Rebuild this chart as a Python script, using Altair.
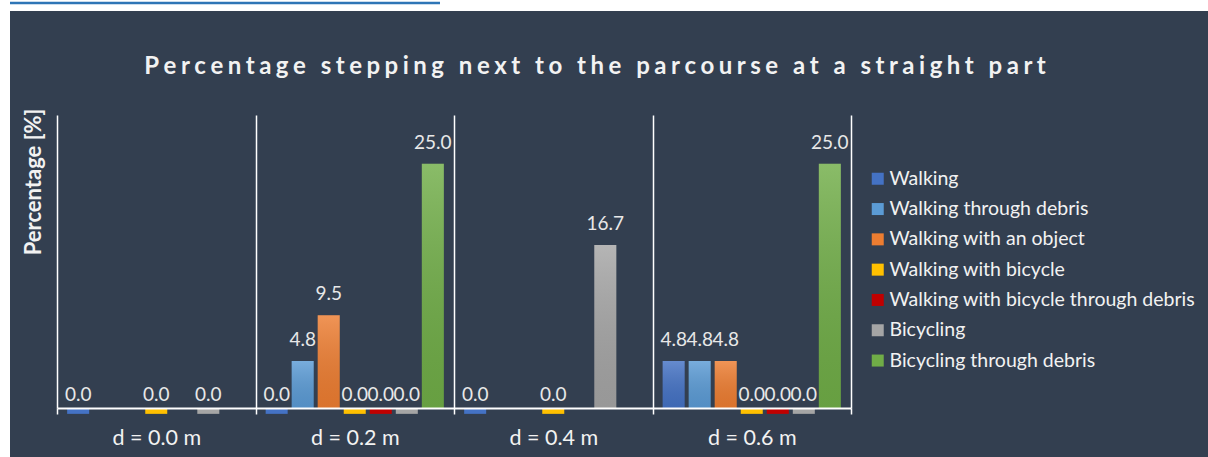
import altair as alt
import pandas as pd

# Distance categories on the x axis
groups = ["d = 0.0 m", "d = 0.2 m", "d = 0.4 m", "d = 0.6 m"]

# Movement types (legend order) and their colours
series = [
    "Walking",
    "Walking through debris",
    "Walking with an object",
    "Walking with bicycle",
    "Walking with bicycle through debris",
    "Bicycling",
    "Bicycling through debris",
]
colors = ["#4472C4", "#5B9BD5", "#ED7D31", "#FFC000", "#C00000", "#A5A5A5", "#70AD47"]

# Percentage stepping next to the parcourse, one value per distance (None = not measured)
walking = [0.0, 0.0, 0.0, 4.8]
walking_debris = [None, 4.8, None, 4.8]
walking_object = [None, 9.5, None, 4.8]
walking_bicycle = [0.0, 0.0, 0.0, 0.0]
walking_bicycle_debris = [None, 0.0, None, 0.0]
bicycling = [0.0, 0.0, 16.7, 0.0]
bicycling_debris = [None, 25.0, None, 25.0]

values = [walking, walking_debris, walking_object, walking_bicycle,
          walking_bicycle_debris, bicycling, bicycling_debris]

rows = []
for name, vals in zip(series, values):
    for g, v in zip(groups, vals):
        if v is not None:
            rows.append({"group": g, "series": name, "value": v})
df = pd.DataFrame(rows)

FONT = "Lato"
TEXT = "#F2F2F2"
PANEL = "#333F50"

# Letter-spaced heading (thin + hair space between characters)
title_text = "Percentage stepping next to the parcourse at a straight part"
spaced_title = "\u2009\u200a".join(title_text)

x_enc = alt.X(
    "group:N",
    sort=groups,
    scale=alt.Scale(domain=groups, paddingInner=0, paddingOuter=0),
    axis=alt.Axis(
        title=None,
        labelAngle=0,
        labelFont=FONT,
        labelFontSize=21.5,
        labelColor=TEXT,
        labelPadding=13,
        domainColor="white",
        domainWidth=2,
        tickColor="white",
        tickWidth=1.5,
        tickSize=6,
        tickBand="extent",
        grid=True,
        gridColor="white",
        gridWidth=1.5,
        gridOpacity=1,
        zindex=1,
    ),
)
xo_enc = alt.XOffset(
    "series:N",
    sort=series,
    scale=alt.Scale(domain=series, paddingInner=0.154, paddingOuter=0.39),
)
y_scale = alt.Scale(domain=[0, 30], nice=False)
y_axis = alt.Axis(
    labels=False,
    ticks=False,
    domain=False,
    grid=False,
    title="Percentage [%]",
    titleFont=FONT,
    titleFontSize=22,
    titleFontWeight="bold",
    titleColor=TEXT,
    titleAngle=270,
    titleAnchor="end",
    titleAlign="right",
    titleBaseline="middle",
    titleX=-24,
    titleY=-7,
    zindex=1,
)
color_enc = alt.Color(
    "series:N",
    sort=series,
    scale=alt.Scale(domain=series, range=colors),
    legend=alt.Legend(
        title=None,
        orient="none",
        legendX=811,
        legendY=54,
        symbolType="square",
        symbolSize=144,
        symbolStrokeWidth=0,
        symbolOpacity=1,
        labelFont=FONT,
        labelFontSize=19.5,
        labelColor=TEXT,
        labelOffset=2,
        labelLimit=0,
        rowPadding=9.3,
        padding=0,
    ),
)

base = alt.Chart(df).encode(x=x_enc, xOffset=xo_enc)
one = pd.DataFrame({"p": [0]})

# Dark chart panel, the link underline above it and the chart heading
panel = alt.Chart(one).mark_rect(color=PANEL).encode(
    x=alt.value(-47), x2=alt.value(1151), y=alt.value(-104), y2=alt.value(342)
)
link_line = alt.Chart(one).mark_rule(color="#2E75B6", strokeWidth=2.5).encode(
    x=alt.value(-47), x2=alt.value(383), y=alt.value(-112)
)
heading = alt.Chart(one).mark_text(
    text=spaced_title, font=FONT, fontSize=24, fontWeight="bold", color=TEXT,
    align="center", baseline="alphabetic",
).encode(x=alt.value(538), y=alt.value(-41))

bars = base.transform_filter("datum.value > 0").mark_bar().encode(
    y=alt.Y("value:Q", scale=y_scale, axis=y_axis),
    y2=alt.datum(0),
    color=color_enc,
)
shade = base.transform_filter("datum.value > 0").mark_bar(
    color=alt.Gradient(
        gradient="linear",
        x1=0, x2=0, y1=0, y2=1,
        stops=[
            alt.GradientStop(color="rgba(255,255,255,0.18)", offset=0),
            alt.GradientStop(color="rgba(0,0,0,0.08)", offset=1),
        ],
    )
).encode(y=alt.Y("value:Q", scale=y_scale), y2=alt.datum(0))

zero_bars = base.transform_filter("datum.value == 0").mark_bar().encode(
    y=alt.Y("value:Q", scale=y_scale),
    y2=alt.datum(-0.6),
    color=color_enc,
)

labels = base.transform_filter("datum.value > 0").mark_text(
    font=FONT, fontSize=19, color="#E8E8E8", baseline="alphabetic", dy=-15
).encode(y=alt.Y("value:Q", scale=y_scale), text=alt.Text("value:Q", format=".1f"))

zero_labels = base.transform_filter("datum.value == 0").mark_text(
    font=FONT, fontSize=19, color="#E8E8E8", baseline="alphabetic", dy=-7
).encode(y=alt.Y("value:Q", scale=y_scale), text=alt.Text("value:Q", format=".1f"))

chart = alt.layer(
    panel, link_line, heading, bars, shade, zero_bars, labels, zero_labels
).properties(
    width=794,
    height=293,
    autosize=alt.AutoSizeParams(type="none"),
    padding={"left": 57, "top": 115, "right": 357, "bottom": 49},
    background="white",
).configure_view(stroke=None)

chart.save("out.html", embed_options={"renderer": "svg", "actions": False})
